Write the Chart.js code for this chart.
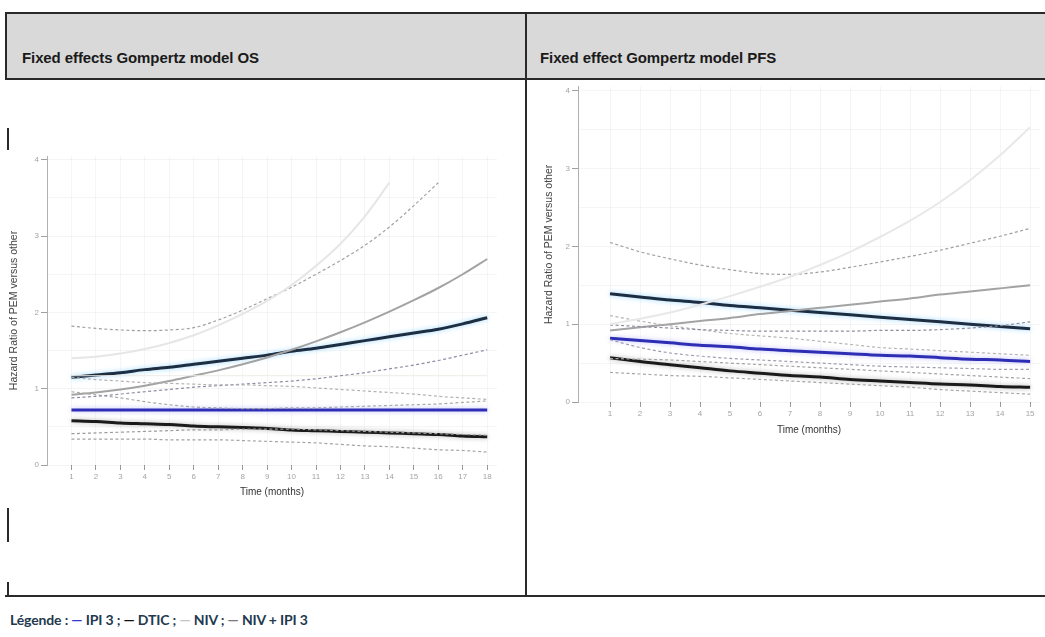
<!DOCTYPE html>
<html><head><meta charset="utf-8">
<script src="https://cdn.jsdelivr.net/npm/chart.js@4.4.1/dist/chart.umd.min.js"></script>
<style>
html,body{margin:0;padding:0;background:#fff;width:1045px;height:637px;overflow:hidden;font-family:"Liberation Sans",Arial,sans-serif;}
.abs{position:absolute;}
.hdr{left:7px;top:13px;width:1045px;height:66px;background:#d9d9d9;}
.line{background:#2a2a2a;}
.title{font-weight:bold;font-size:15px;color:#1a1a1a;top:49px;white-space:nowrap;letter-spacing:-0.1px;}
.legend{left:10px;top:611px;font-family:Lato,"Open Sans",sans-serif;font-weight:bold;font-size:14px;color:#23394d;white-space:nowrap;letter-spacing:-0.15px;}
canvas{position:absolute;}
</style>
</head><body>
<div class="abs hdr"></div>
<div class="abs line" style="left:5px;top:12px;width:1040px;height:2px;"></div>
<div class="abs line" style="left:5px;top:78px;width:1040px;height:2px;"></div>
<div class="abs line" style="left:5px;top:595px;width:1040px;height:2px;"></div>
<div class="abs line" style="left:525px;top:12px;width:2px;height:585px;"></div>
<div class="abs line" style="left:5px;top:12px;width:2px;height:68px;"></div>
<div class="abs line" style="left:7px;top:128px;width:2px;height:22px;"></div>
<div class="abs line" style="left:7px;top:508px;width:2px;height:34px;"></div>
<div class="abs line" style="left:7px;top:582px;width:2px;height:15px;"></div>
<div class="abs title" style="left:22px;">Fixed effects Gompertz model OS</div>
<div class="abs title" style="left:540px;">Fixed effect Gompertz model PFS</div>
<canvas id="os" width="524" height="515" style="left:0px;top:80px;"></canvas>
<canvas id="pfs" width="517" height="515" style="left:528px;top:80px;"></canvas>
<div class="abs legend">Légende : <span style="color:#3535d6">—</span> IPI 3 ; <span style="color:#111">—</span> DTIC ; <span style="color:#c4c4c4">—</span> NIV ; <span style="color:#7a7a7a">—</span> NIV + IPI 3</div>
<script>
// ---------- data ----------
const osMonths = [1,2,3,4,5,6,7,8,9,10,11,12,13,14,15,16,17,18];
const pfsMonths = [1,2,3,4,5,6,7,8,9,10,11,12,13,14,15];
const yTickValues = [0,0.5,1,1.5,2,2.5,3,3.5,4];

// OS panel
const osLightSolid = [1.40,1.42,1.46,1.52,1.60,1.70,1.83,1.98,2.15,2.36,2.61,2.90,3.26,3.70,null,null,null,null];
const osUpperDotted = [1.82,1.79,1.77,1.76,1.77,1.80,1.90,2.03,2.18,2.33,2.50,2.68,2.88,3.12,3.40,3.70,null,null];
const osNavy = [1.15,1.18,1.21,1.25,1.28,1.32,1.36,1.40,1.44,1.49,1.53,1.58,1.63,1.68,1.73,1.78,1.85,1.93];
const osGray = [0.92,0.95,0.99,1.04,1.10,1.17,1.24,1.32,1.41,1.51,1.62,1.74,1.87,2.01,2.16,2.32,2.50,2.70];
const osDashA = [1.15,1.12,1.10,1.08,1.07,1.06,1.05,1.05,1.04,1.03,1.01,0.99,0.97,0.95,0.93,0.90,0.88,0.86];
const osDashB = [0.88,0.90,0.93,0.96,0.99,1.02,1.04,1.06,1.08,1.10,1.13,1.17,1.21,1.26,1.31,1.37,1.44,1.51];
const osDashC = [0.96,0.92,0.88,0.83,0.79,0.76,0.75,0.74,0.74,0.75,0.75,0.76,0.77,0.78,0.79,0.80,0.82,0.84];
const osFaint = [1.17,1.17,1.17,1.17,1.17,1.17,1.17,1.17,1.17,1.17,1.17,1.17,1.17,1.17,1.17,1.17,1.17,1.17];
const osBlue = [0.72,0.72,0.72,0.72,0.72,0.72,0.72,0.72,0.72,0.72,0.72,0.72,0.72,0.72,0.72,0.72,0.72,0.72];
const osDashD = [0.41,0.42,0.43,0.44,0.45,0.46,0.46,0.47,0.47,0.47,0.46,0.45,0.44,0.43,0.42,0.41,0.40,0.39];
const osBlack = [0.58,0.57,0.55,0.54,0.53,0.51,0.50,0.49,0.48,0.46,0.45,0.44,0.43,0.42,0.41,0.40,0.38,0.37];
const osDashE = [0.34,0.34,0.34,0.34,0.33,0.33,0.33,0.32,0.31,0.30,0.29,0.27,0.25,0.24,0.22,0.20,0.19,0.17];

// PFS panel
const pfsLightSolid = [1.00,1.07,1.15,1.25,1.36,1.48,1.61,1.76,1.93,2.12,2.33,2.57,2.85,3.17,3.53];
const pfsUpperDotted = [2.05,1.93,1.84,1.76,1.70,1.65,1.64,1.67,1.73,1.80,1.87,1.95,2.04,2.13,2.23];
const pfsNavy = [1.39,1.35,1.31,1.28,1.24,1.21,1.18,1.15,1.12,1.09,1.06,1.03,1.00,0.97,0.94];
const pfsGray = [0.92,0.96,1.00,1.04,1.08,1.13,1.17,1.21,1.25,1.29,1.33,1.38,1.42,1.46,1.50];
const pfsDashG = [0.99,0.97,0.95,0.93,0.92,0.91,0.91,0.91,0.91,0.92,0.92,0.93,0.95,0.98,1.03];
const pfsDashH = [1.11,1.04,0.98,0.93,0.88,0.85,0.82,0.78,0.74,0.70,0.68,0.66,0.64,0.62,0.60];
const pfsBlue = [0.82,0.79,0.76,0.73,0.71,0.68,0.66,0.64,0.62,0.60,0.59,0.57,0.55,0.54,0.52];
const pfsDashI = [0.80,0.70,0.63,0.59,0.56,0.54,0.52,0.50,0.48,0.46,0.45,0.44,0.43,0.42,0.42];
const pfsDashJ = [0.56,0.55,0.54,0.52,0.50,0.48,0.46,0.44,0.42,0.40,0.38,0.36,0.34,0.32,0.30];
const pfsBlack = [0.57,0.52,0.48,0.44,0.40,0.37,0.34,0.32,0.29,0.27,0.25,0.23,0.22,0.20,0.19];
const pfsDashK = [0.38,0.36,0.34,0.33,0.31,0.29,0.27,0.25,0.23,0.21,0.19,0.16,0.14,0.12,0.10];

const yTitle = 'Hazard Ratio of PEM versus other';
const xTitle = 'Time (months)';

// ---------- styles ----------
function solid(label, data, color, width, glow){
  return {label, data, borderColor:color, borderWidth:width, pointRadius:0, fill:false,
    cubicInterpolationMode:'monotone', spanGaps:false, glow:glow||null};
}
function dashed(label, data, color){
  return {label, data, borderColor:color, borderWidth:1.2, borderDash:[3,2.5], pointRadius:0, fill:false,
    cubicInterpolationMode:'monotone', spanGaps:false};
}
const glowPlugin = {
  id:'glow',
  beforeDatasetDraw(chart, args){
    const ds = chart.data.datasets[args.index];
    chart.ctx.save();
    if (ds.glow){ chart.ctx.shadowColor = ds.glow; chart.ctx.shadowBlur = 5; }
  },
  afterDatasetDraw(chart){ chart.ctx.restore(); }
};

function makeChart(id, months, datasets, geo){
  new Chart(document.getElementById(id), {
    type:'line',
    data:{labels:months, datasets},
    plugins:[glowPlugin],
    options:{
      responsive:false, animation:false,
      layout:{padding:geo.padding},
      plugins:{legend:{display:false}, tooltip:{enabled:false}},
      scales:{
        x:{type:'linear', min:geo.xmin, max:geo.xmax,
          afterBuildTicks:s=>{ s.ticks = months.map(v=>({value:v})); },
          afterFit:s=>{ s.height = geo.xh; },
          border:{display:false},
          grid:{color:'rgba(0,0,0,0.04)', tickColor:'#9a9a9a', tickLength:5, drawTicks:true},
          ticks:{color:'#a4a4a4', font:{size:8, family:'Liberation Sans'}, padding:2, maxRotation:0, autoSkip:false,
            callback:v=>String(v)},
          title:{display:true, text:xTitle, color:'#333', font:{size:10, family:'Liberation Sans'}, padding:{top:0,bottom:0}}
        },
        y:{type:'linear', min:0, max:4.05,
          afterBuildTicks:s=>{ s.ticks = yTickValues.map(v=>({value:v})); },
          afterFit:s=>{ s.width = geo.yw; },
          border:{display:true, color:'#b0b0b0', width:1},
          grid:{color:'rgba(0,0,0,0.04)', tickLength:6,
            tickColor:c=> (c.tick && Number.isInteger(c.tick.value)) ? '#a0a0a0' : 'rgba(0,0,0,0)'},
          ticks:{color:'#a4a4a4', font:{size:8, family:'Liberation Sans'}, padding:2,
            callback:v=> Number.isInteger(v) ? String(v) : ''},
          title:{display:true, text:yTitle, color:'#444', font:{size:10.5, family:'Liberation Sans'}, padding:{top:geo.ytp, bottom:0}}
        }
      }
    }
  });
}

makeChart('os', osMonths, [
  solid('NIV (light)', osLightSolid, '#e6e6e6', 2),
  dashed('upper CI', osUpperDotted, '#a0a0a0'),
  dashed('CI A', osDashA, '#b3b3b3'),
  dashed('CI B', osDashB, '#8d8da6'),
  dashed('CI C', osDashC, '#a9a9a9'),
  solid('faint', osFaint, '#eeebe3', 1),
  dashed('CI D', osDashD, '#9a9a9a'),
  dashed('CI E', osDashE, '#a3a3a3'),
  solid('NIV', osGray, '#a3a3a3', 2),
  solid('NIV + IPI 3', osNavy, '#1e2e42', 3, 'rgba(110,200,255,0.7)'),
  solid('IPI 3', osBlue, '#2e2eb4', 3, 'rgba(150,150,255,0.6)'),
  solid('DTIC', osBlack, '#1a1a1a', 3, 'rgba(0,0,0,0.3)')
], {padding:{left:0, top:76, right:27, bottom:97}, xmin:0, xmax:18.4, xh:33, yw:47, ytp:8});

makeChart('pfs', pfsMonths, [
  solid('NIV (light)', pfsLightSolid, '#e8e8e8', 2),
  dashed('upper CI', pfsUpperDotted, '#a0a0a0'),
  dashed('CI G', pfsDashG, '#8e8e9e'),
  dashed('CI H', pfsDashH, '#b5b5b5'),
  dashed('CI I', pfsDashI, '#9d9db0'),
  dashed('CI J', pfsDashJ, '#a3a3a3'),
  dashed('CI K', pfsDashK, '#a6a6a6'),
  solid('NIV', pfsGray, '#a3a3a3', 2),
  solid('NIV + IPI 3', pfsNavy, '#1e2e42', 3, 'rgba(110,200,255,0.7)'),
  solid('IPI 3', pfsBlue, '#2e2eb4', 3, 'rgba(150,150,255,0.6)'),
  solid('DTIC', pfsBlack, '#1a1a1a', 3, 'rgba(0,0,0,0.3)')
], {padding:{left:0, top:4, right:5, bottom:159}, xmin:-0.067, xmax:15.33, xh:34, yw:50, ytp:15});
</script>
</body></html>
